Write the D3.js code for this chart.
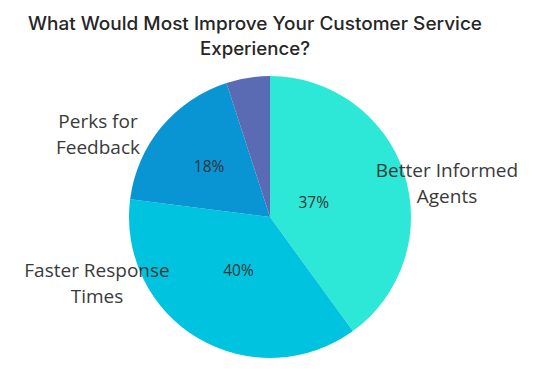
<!DOCTYPE html>
<html>
<head>
<meta charset="utf-8">
<script src="https://cdn.jsdelivr.net/npm/d3@7"></script>
<style>
  body { margin: 0; background: #fff; }
  text { font-family: "Open Sans", sans-serif; fill: #333; }
</style>
</head>
<body>
<script>
// chart data
const categories = ['Better Informed Agents', 'Faster Response Times', 'Perks for Feedback', 'Other'];
const values = [40, 37, 18, 5];
const pctLabels = ['37%', '40%', '18%', ''];
const nameLines = [['Better Informed', 'Agents'], ['Faster Response', 'Times'], ['Perks for', 'Feedback'], []];
const titleLines = ['What Would Most Improve Your Customer Service', 'Experience?'];

const width = 550, height = 371;
const cx = 270, cy = 217, radius = 141;
const colors = ['#2de8d6', '#00c3df', '#0994d4', '#5a6bb4'];

const svg = d3.select('body').append('svg')
    .attr('width', width).attr('height', height);

// title (the original uses a wide geometric face, so stretch to its width)
const titleW = [454, 110];
svg.selectAll('text.title')
    .data(titleLines)
  .enter().append('text')
    .attr('class', 'title')
    .attr('x', 255)
    .attr('y', (d, i) => 30 + i * 25)
    .attr('text-anchor', 'middle')
    .attr('textLength', (d, i) => titleW[i])
    .attr('lengthAdjust', 'spacingAndGlyphs')
    .style('font-family', 'Inter, sans-serif')
    .style('font-size', '18px')
    .style('font-weight', 500)
    .style('fill', '#262626')
    .text(d => d);

const pie = d3.pie().sort(null).value(d => d);
const arcs = pie(values);
const arc = d3.arc().innerRadius(0).outerRadius(radius);

const g = svg.append('g').attr('transform', `translate(${cx},${cy})`);

g.selectAll('path')
    .data(arcs)
  .enter().append('path')
    .attr('d', arc)
    .style('fill', (d, i) => colors[i]);

// percent labels sit at different depths in each slice
const labelR = [46, 62, 79, 0];
g.selectAll('text.pct')
    .data(arcs)
  .enter().append('text')
    .attr('class', 'pct')
    .attr('transform', (d, i) => {
        const c = d3.arc().innerRadius(labelR[i]).outerRadius(labelR[i]).centroid(d);
        return `translate(${c[0]},${c[1]})`;
    })
    .attr('text-anchor', 'middle')
    .attr('dy', '0.35em')
    .style('font-size', '15.5px')
    .text((d, i) => pctLabels[i]);

// outside names
const namePos = [[447, 177], [97, 277], [98, 128], [0, 0]];
categories.forEach((c, i) => {
    svg.selectAll(null)
        .data(nameLines[i])
      .enter().append('text')
        .attr('x', namePos[i][0])
        .attr('y', (d, j) => namePos[i][1] + j * 26)
        .attr('text-anchor', 'middle')
        .style('font-size', '19px')
        .style('fill', '#3a3a3a')
        .text(d => d);
});
</script>
</body>
</html>
